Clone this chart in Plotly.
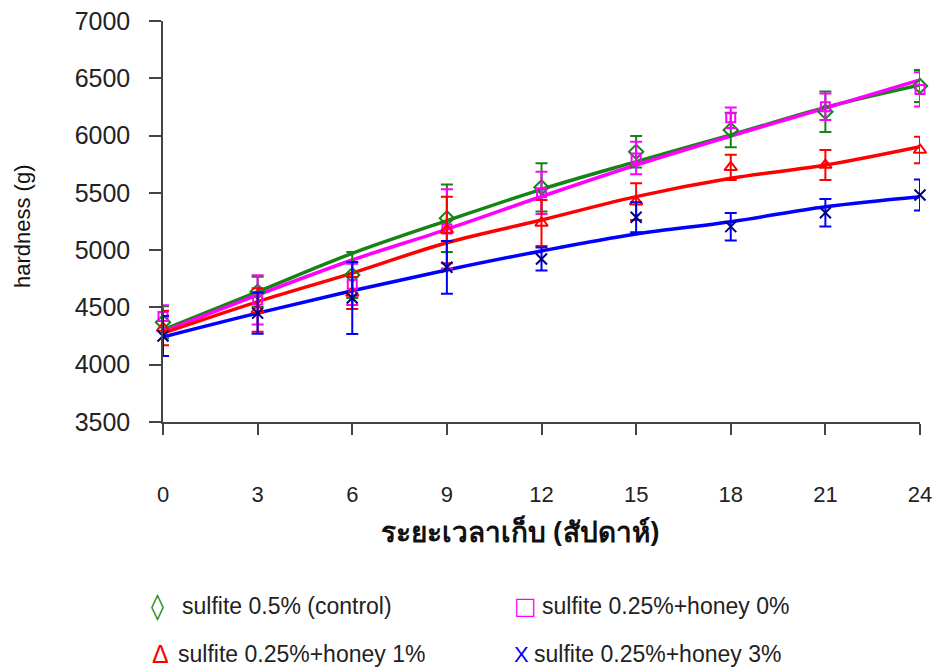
import plotly.graph_objects as go

weeks = [0, 3, 6, 9, 12, 15, 18, 21, 24]

names = ["sulfite 0.5% (control)", "sulfite 0.25%+honey 0%",
         "sulfite 0.25%+honey 1%", "sulfite 0.25%+honey 3%"]

control_mean = [4370, 4637, 4783, 5278, 5548, 5859, 6049, 6208, 6433]
control_err = [140, 130, 200, 295, 210, 137, 150, 177, 140]
control_fit = [4303, 4637, 4972, 5257, 5531, 5772, 6005, 6246, 6441]

honey0_mean = [4420, 4565, 4702, 5185, 5500, 5804, 6156, 6252, 6403]
honey0_err = [100, 215, 180, 346, 185, 141, 90, 116, 150]
honey0_fit = [4288, 4608, 4914, 5182, 5468, 5743, 5996, 6240, 6485]

honey1_mean = [4320, 4478, 4626, 5176, 5237, 5423, 5723, 5743, 5874]
honey1_err = [150, 190, 140, 290, 200, 160, 110, 130, 115]
honey1_fit = [4275, 4550, 4800, 5065, 5263, 5467, 5627, 5743, 5903]

honey3_mean = [4250, 4450, 4582, 4850, 4923, 5287, 5205, 5327, 5481]
honey3_err = [175, 180, 315, 230, 100, 130, 120, 120, 135]
honey3_fit = [4242, 4450, 4646, 4827, 4993, 5141, 5248, 5379, 5467]

y_ticks = [3500, 4000, 4500, 5000, 5500, 6000, 6500, 7000]

series = [
    (control_mean, control_err, control_fit, "#148414", "diamond-open", "#148414", 11),
    (honey0_mean, honey0_err, honey0_fit, "#ff00ff", "square-open", "#ff00ff", 9),
    (honey1_mean, honey1_err, honey1_fit, "#ff0000", "triangle-up-open", "#ff0000", 11),
    (honey3_mean, honey3_err, honey3_fit, "#0000ff", "x-thin-open", "#000080", 11),
]

fig = go.Figure()
for mean, err, fit, col, sym, mcol, msz in series:
    fig.add_trace(go.Scatter(x=weeks, y=fit, mode="lines", line=dict(color=col, width=3.5, shape="spline"),
                             showlegend=False, hoverinfo="skip", cliponaxis=False))
for (mean, err, fit, col, sym, mcol, msz), nm in zip(series, names):
    fig.add_trace(go.Scatter(x=weeks, y=mean, mode="markers", name=nm, showlegend=False,
                             marker=dict(symbol=sym, size=msz, color=mcol, line=dict(color=mcol, width=2)),
                             error_y=dict(type="data", array=err, visible=True, color=col, thickness=2, width=6),
                             cliponaxis=False))

W, H = 938, 670
L, R, T, B = 163, 920, 21, 422

def px(x):
    return (x - L) / (R - L)

def py(y):
    return (B - y) / (B - T)

font = "Liberation Sans, Arial, sans-serif"
fig.update_layout(
    width=W, height=H, autosize=False,
    margin=dict(l=L, r=W - R, t=T, b=H - B, autoexpand=False),
    plot_bgcolor="white", paper_bgcolor="white",
    font=dict(family=font, color="#222222"),
    xaxis=dict(range=[0, 24], tickvals=weeks, ticktext=[str(w) for w in weeks], automargin=False,
               showgrid=False, zeroline=False, showline=True, linecolor="#444444", linewidth=1.5,
               ticks="outside", ticklen=11, tickwidth=1.5, tickcolor="#444444",
               tickfont=dict(size=22, family=font, color="#222222"), ticklabelstandoff=41,
               ticklabeloverflow="allow"),
    yaxis=dict(range=[3500, 7000], tickvals=y_ticks, ticktext=[str(v) for v in y_ticks], automargin=False,
               showgrid=False, zeroline=False, showline=True, linecolor="#444444", linewidth=1.5,
               ticks="outside", ticklen=12, tickwidth=1.5, tickcolor="#444444",
               tickfont=dict(size=25, family=font, color="#222222"), ticklabelstandoff=14,
               ticklabeloverflow="allow"),
)

ann = []
ann.append(dict(text="hardness (g)", x=px(22), y=py(226), xref="paper", yref="paper",
                textangle=-90, showarrow=False, font=dict(size=22, family=font, color="#111111"),
                xanchor="center", yanchor="middle"))
ann.append(dict(text="<b>ระยะเวลาเก็บ (สัปดาห์)</b>", x=px(520), y=py(531), xref="paper", yref="paper",
                showarrow=False, font=dict(size=28, family="Noto Sans, DejaVu Sans, sans-serif", color="#111111"),
                xanchor="center", yanchor="middle"))

legend_items = [
    ("◊", "#148414", 149, 180, 606, names[0], 26, "DejaVu Sans, sans-serif"),
    ("□", "#ff00ff", 512, 540, 606, names[1], 24, "DejaVu Sans, sans-serif"),
    ("Δ", "#ff0000", 150, 176, 654, names[2], 25, font),
    ("X", "#0000ff", 512, 532, 654, names[3], 22, font),
]
for glyph, col, gx, tx, ty, nm, gs, gf in legend_items:
    ann.append(dict(text=glyph, x=px(gx), y=py(ty), xref="paper", yref="paper", showarrow=False,
                    font=dict(size=gs, family=gf, color=col),
                    xanchor="left", yanchor="middle"))
    ann.append(dict(text=nm, x=px(tx), y=py(ty), xref="paper", yref="paper", showarrow=False,
                    font=dict(size=23, family=font, color="#222222"),
                    xanchor="left", yanchor="middle"))
fig.update_layout(annotations=ann)

fig.write_html("out.html", config={"displayModeBar": False},
               post_script="document.body.style.margin='0';document.body.style.overflow='hidden';")
